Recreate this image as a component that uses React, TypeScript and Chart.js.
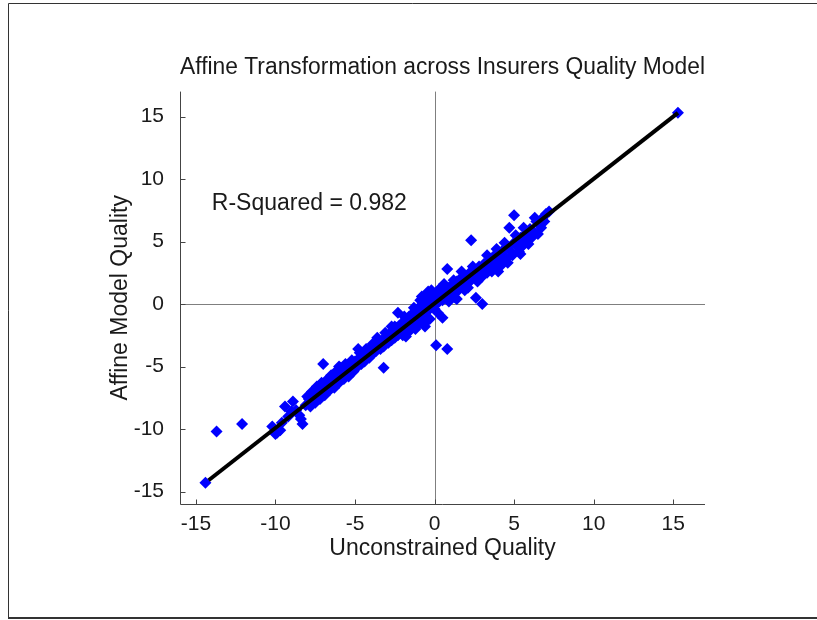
import React, { useEffect, useRef } from "react";
import { Chart, registerables } from "chart.js";

Chart.register(...registerables);

const chartTitle = "Affine Transformation across Insurers Quality Model";
const xAxisTitle = "Unconstrained Quality";
const yAxisTitle = "Affine Model Quality";
const rSquaredLabel = "R-Squared = 0.982";
const rSquaredAnchor = [-14, 8];

const xTickValues = [-15, -10, -5, 0, 5, 10, 15];
const yTickValues = [-15, -10, -5, 0, 5, 10, 15];
const xRange = [-16, 17];
const yRange = [-16, 17];

const unconstrainedQuality = [
  -14.4, -13.7, -12.1,
  -10.2, -10.0, -9.9, -9.7, -9.6, -9.4, -9.2, -9.0, -8.9, -8.7, -8.5, -8.4, -8.3, -8.1,
  -7.9, -7.8, -7.6, -7.5, -7.4, -7.3, -7.2, -7.0, -7.0, -6.9, -6.7, -6.6, -6.5, -6.4, -6.3,
  -6.1, -6.0, -6.0, -5.8, -5.7, -5.6, -5.5, -5.4, -5.3, -5.1, -5.0, -4.9, -4.8, -4.8, -4.7,
  -4.6, -4.5, -4.4, -4.2, -4.1, -4.0, -3.9, -3.8, -3.7, -3.6, -3.5, -3.4, -3.3, -3.2, -3.2,
  -3.0, -2.9, -2.8, -2.7, -2.7, -2.6, -2.5, -2.4, -2.3, -2.3, -2.2, -2.1, -2.0, -1.9, -1.9,
  -1.8, -1.8, -1.7, -1.6, -1.5, -1.4, -1.3, -1.3, -1.2, -1.2, -1.1, -1.0, -0.9, -0.9, -0.8,
  -0.7, -0.6, -0.6, -0.6, -0.5, -0.5, -0.4, -0.3, -0.3, -0.2, -0.2, -0.1, 0.0, 0.1, 0.1,
  0.2, 0.2, 0.3, 0.4, 0.5, 0.5, 0.6, 0.6, 0.7, 0.8, 0.8, 0.9, 1.0, 1.1, 1.2, 1.3, 1.4, 1.4,
  1.5, 1.6, 1.7, 1.8, 1.9, 2.0, 2.1, 2.2, 2.3, 2.3, 2.5, 2.6, 2.6, 2.8, 2.9, 3.0, 3.0, 3.1,
  3.2, 3.3, 3.4, 3.5, 3.6, 3.7, 3.8, 4.0, 4.0, 4.1, 4.2, 4.3, 4.4, 4.4, 4.6, 4.6, 4.7, 4.8,
  4.9, 5.0, 5.0, 5.2, 5.4, 5.4, 5.5, 5.6, 5.6, 5.8, 5.9, 6.0, 6.1, 6.2, 6.3, 6.4, 6.5, 6.7,
  6.8, 7.0, 15.3,
  -8.0, -7.7, -7.1, -6.8, -6.2, -5.9, -5.2, -4.3, -3.9, -3.1, -2.5, -2.0, -1.6, -1.0, -0.8,
  -0.4, 0.0, 0.3, 0.9, 1.2, 1.9, 2.4, 2.7, 3.3, 3.9, 4.5, 5.1, 5.3, 5.7, 6.6, 6.9, 7.2,
];

const affineQuality = [
  -14.3, -10.2, -9.6,
  -9.8, -10.4, -10.3, -10.1, -9.5, -8.2, -9.0, -8.6, -7.8, -8.5, -8.9, -9.2, -9.6, -8.1,
  -7.6, -8.2, -7.4, -7.9, -6.6, -7.0, -7.6, -4.8, -6.8, -7.3, -6.4, -6.9, -5.7, -6.2, -6.7,
  -5.8, -5.0, -6.3, -5.5, -6.0, -4.8, -5.2, -5.8, -4.9, -5.4, -4.6, -5.1, -3.6, -4.4, -3.9,
  -4.8, -4.1, -4.6, -3.8, -4.3, -3.5, -4.0, -3.3, -3.8, -2.7, -3.1, -3.6, -2.9, -5.1, -3.4,
  -2.6, -3.1, -2.4, -1.8, -2.9, -2.1, -2.7, -1.9, -0.7, -2.5, -1.7, -2.3, -1.5, -1.0, -2.1,
  -1.2, -2.6, -1.9, -1.0, -1.7, -0.8, -0.3, -1.5, -0.5, -2.0, -1.2, -0.3, 0.3, -1.0, -0.1,
  -0.8, 0.1, -1.5, -1.8, 0.8, -0.6, 0.3, -0.4, -1.2, 0.5, 1.1, -0.2, 0.6, 0.0, -3.3,
  0.8, -0.7, 0.2, 0.9, 0.3, -1.1, 1.1, 1.6, 0.5, 2.8, -3.6, 1.3, 0.7, 1.5, 0.9, 0.5, 1.8, 0.4,
  1.1, 2.0, 2.6, 1.4, 2.2, 1.6, 1.3, 2.5, 1.9, 5.1, 2.7, 2.1, 0.5, 3.0, 2.4, 2.2, 0.0, 3.2,
  2.7, 3.9, 3.5, 2.9, 2.6, 3.8, 3.2, 4.0, 2.6, 3.5, 3.1, 4.3, 3.8, 4.9, 4.6, 3.3, 6.1, 4.2,
  3.9, 7.1, 4.9, 4.6, 5.3, 4.0, 4.6, 5.0, 6.1, 5.7, 4.8, 6.0, 5.3, 5.8, 6.9, 6.6, 5.6, 6.1,
  6.9, 7.2, 15.3,
  -7.4, -7.0, -6.3, -6.1, -5.4, -5.1, -4.5, -3.6, -3.2, -2.3, -1.8, -2.5, -2.2, -1.6, 0.6,
  1.0, -0.4, 1.2, 0.2, 1.9, 1.1, 3.0, 1.8, 2.5, 4.4, 3.6, 5.5, 4.2, 5.2, 6.5, 6.6, 7.4,
];

const fitLineX = [-14.2, 15.3];
const fitLineY = [-14.1, 15.3];

const FONT = "'Liberation Sans', Arial, Helvetica, sans-serif";
const TEXT = "#1a1a1a";

const decorPlugin = {
  id: "decor",
  beforeDraw(chart: any) {
    const { ctx, width, height } = chart;
    ctx.save();
    ctx.fillStyle = "#ffffff";
    ctx.fillRect(0, 0, width, height);
    ctx.strokeStyle = "#333333";
    ctx.lineWidth = 1;
    ctx.beginPath();
    ctx.moveTo(8.5, 3.5);
    ctx.lineTo(width, 3.5);
    ctx.moveTo(8.5, 3.5);
    ctx.lineTo(8.5, 618);
    ctx.stroke();
    ctx.lineWidth = 2;
    ctx.beginPath();
    ctx.moveTo(8, 618);
    ctx.lineTo(width, 618);
    ctx.stroke();
    ctx.restore();
  },
  beforeDatasetsDraw(chart: any) {
    const { ctx, chartArea, scales } = chart;
    const x0 = Math.round(scales.x.getPixelForValue(0)) + 0.5;
    const y0 = Math.round(scales.y.getPixelForValue(0)) + 0.5;
    ctx.save();
    ctx.strokeStyle = "#7f7f7f";
    ctx.lineWidth = 1;
    ctx.beginPath();
    ctx.moveTo(x0, chartArea.top);
    ctx.lineTo(x0, chartArea.bottom);
    ctx.moveTo(chartArea.left, y0);
    ctx.lineTo(chartArea.right, y0);
    ctx.stroke();
    ctx.restore();
  },
  afterDatasetsDraw(chart: any) {
    const { ctx, chartArea, scales } = chart;
    const left = chartArea.left + 0.5;
    const bottom = chartArea.bottom + 0.5;
    ctx.save();
    ctx.strokeStyle = "#444444";
    ctx.lineWidth = 1;
    ctx.beginPath();
    ctx.moveTo(left, chartArea.top);
    ctx.lineTo(left, bottom);
    ctx.lineTo(chartArea.right, bottom);
    yTickValues.forEach((v) => {
      const py = Math.round(scales.y.getPixelForValue(v)) + 0.5;
      ctx.moveTo(left, py);
      ctx.lineTo(left + 5, py);
    });
    xTickValues.forEach((v) => {
      const px = Math.round(scales.x.getPixelForValue(v)) + 0.5;
      ctx.moveTo(px, bottom);
      ctx.lineTo(px, bottom - 5);
    });
    ctx.stroke();
    ctx.fillStyle = TEXT;
    ctx.font = `23px ${FONT}`;
    ctx.textAlign = "left";
    ctx.textBaseline = "middle";
    ctx.fillText(
      rSquaredLabel,
      scales.x.getPixelForValue(rSquaredAnchor[0]),
      scales.y.getPixelForValue(rSquaredAnchor[1])
    );
    ctx.restore();
  },
};

export default function App() {
  const canvasRef = useRef<HTMLCanvasElement>(null);

  useEffect(() => {
    const canvas = canvasRef.current;
    if (!canvas) return;
    const scatterPoints = unconstrainedQuality.map((x, i) => ({ x, y: affineQuality[i] }));
    const fitPoints = fitLineX.map((x, i) => ({ x, y: fitLineY[i] }));

    const chart = new Chart(canvas, {
      type: "scatter",
      data: {
        datasets: [
          {
            label: "Fit",
            data: fitPoints,
            showLine: true,
            borderColor: "#000000",
            borderWidth: 4,
            pointRadius: 0,
            pointHoverRadius: 0,
            order: 0,
          },
          {
            label: "Insurers",
            data: scatterPoints,
            pointStyle: "rectRot",
            pointRadius: 6,
            pointBackgroundColor: "#0000ff",
            pointBorderColor: "#0000ff",
            pointBorderWidth: 0,
            order: 1,
          },
        ],
      },
      options: {
        animation: false,
        responsive: false,
        devicePixelRatio: 1,
        layout: { padding: { left: 0, right: 112, top: 0, bottom: 0 } },
        plugins: {
          legend: { display: false },
          tooltip: { enabled: false },
          title: {
            display: true,
            text: chartTitle,
            fullSize: false,
            color: TEXT,
            font: { family: FONT, size: 23, weight: "normal" },
            padding: { top: 54, bottom: 10 },
          },
        },
        scales: {
          x: {
            type: "linear",
            min: xRange[0],
            max: xRange[1],
            afterBuildTicks: (s: any) => {
              s.ticks = xTickValues.map((v) => ({ value: v }));
            },
            afterFit: (s: any) => {
              s.height = 116;
            },
            grid: { display: false },
            border: { display: false },
            ticks: {
              padding: 0,
              color: TEXT,
              font: { family: FONT, size: 21 },
              maxRotation: 0,
              autoSkip: false,
            },
            title: {
              display: true,
              text: xAxisTitle,
              color: TEXT,
              font: { family: FONT, size: 23 },
              padding: { top: 0, bottom: 58 },
            },
          },
          y: {
            type: "linear",
            min: yRange[0],
            max: yRange[1],
            afterBuildTicks: (s: any) => {
              s.ticks = yTickValues.map((v) => ({ value: v }));
            },
            afterFit: (s: any) => {
              s.width = 180;
            },
            grid: { display: false },
            border: { display: false },
            ticks: {
              padding: 8,
              color: TEXT,
              font: { family: FONT, size: 21 },
              autoSkip: false,
            },
            title: {
              display: true,
              text: yAxisTitle,
              color: TEXT,
              font: { family: FONT, size: 23 },
              padding: { top: 107, bottom: 0 },
            },
          },
        },
      },
      plugins: [decorPlugin],
    } as any);

    return () => chart.destroy();
  }, []);

  return (
    <div style={{ position: "absolute", left: 0, top: 0, width: 817, height: 620, background: "#fff" }}>
      <canvas ref={canvasRef} width={817} height={620} style={{ display: "block", width: 817, height: 620 }} />
    </div>
  );
}
